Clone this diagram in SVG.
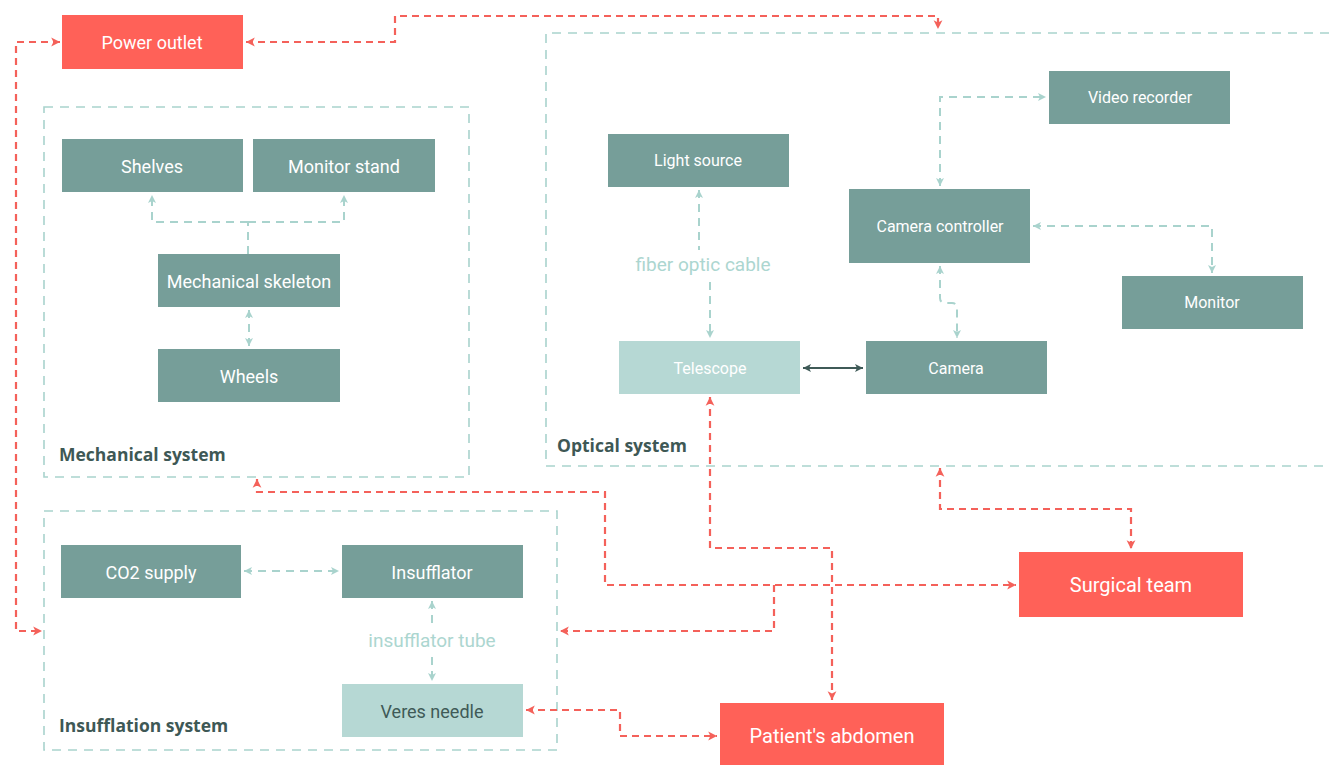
<svg xmlns="http://www.w3.org/2000/svg" width="1329" height="765" viewBox="0 0 1329 765">
  <style>
    .node { fill: #769e99; }
    .hot { fill: #ff6158; }
    .pale { fill: #b6d8d4; }
    .lbl { font-family: Roboto, "Liberation Sans", sans-serif; font-size: 18px; fill: #ffffff; text-anchor: middle; dominant-baseline: central; }
    .sm { font-size: 16px; }
    .big { font-size: 20px; }
    .dark { fill: #3f5a57; }
    .grp { fill: none; stroke: #a9d3cd; stroke-width: 1.6; stroke-dasharray: 9 7; }
    .gname { font-family: "Open Sans", "Liberation Sans", sans-serif; font-size: 17.5px; font-weight: bold; fill: #3e5855; }
    .cap { font-family: Roboto, "Liberation Sans", sans-serif; font-size: 19px; fill: #acd6d0; text-anchor: middle; }
    .r { fill: none; stroke: #f4615a; stroke-width: 2.2; stroke-dasharray: 7 5; }
    .t { fill: none; stroke: #a9d3cd; stroke-width: 2; stroke-dasharray: 8 6; }
    .s { fill: none; stroke: #3f5a57; stroke-width: 2; }
  </style>
  <defs>
    <marker id="ar" viewBox="0 0 10 10" refX="9" refY="5" markerWidth="11" markerHeight="11" markerUnits="userSpaceOnUse" orient="auto-start-reverse">
      <path d="M1,1 L9,5 L1,9 L3,5 z" fill="#f4615a"/>
    </marker>
    <marker id="at" viewBox="0 0 10 10" refX="9" refY="5" markerWidth="10" markerHeight="10" markerUnits="userSpaceOnUse" orient="auto-start-reverse">
      <path d="M1,1 L9,5 L1,9 L3,5 z" fill="#a9d3cd"/>
    </marker>
    <marker id="ad" viewBox="0 0 10 10" refX="9" refY="5" markerWidth="10" markerHeight="10" markerUnits="userSpaceOnUse" orient="auto-start-reverse">
      <path d="M1,1 L9,5 L1,9 L3,5 z" fill="#3f5a57"/>
    </marker>
  </defs>

  <!-- subsystem containers -->
  <g id="mechanical-system">
    <rect class="grp" x="44" y="107" width="425" height="370"/>
    <text class="gname" x="59" y="461">Mechanical system</text>
  </g>
  <g id="insufflation-system">
    <rect class="grp" x="44" y="511" width="513" height="239"/>
    <text class="gname" x="59" y="732">Insufflation system</text>
  </g>
  <g id="optical-system">
    <path class="grp" d="M1329,33 H546 V466 H1329"/>
    <text class="gname" x="557" y="452">Optical system</text>
  </g>

  <!-- connectors -->
  <g id="connectors">
    <!-- power and staff / patient links -->
    <path class="r" d="M246,42 H395 V16 H938 V29" marker-start="url(#ar)" marker-end="url(#ar)"/>
    <path class="r" d="M60,42 H16 V631 H42" marker-start="url(#ar)" marker-end="url(#ar)"/>
    <path class="r" d="M257,479 V492 H605 V585 H1016" marker-start="url(#ar)" marker-end="url(#ar)"/>
    <path class="r" d="M774,585 V631 H560" marker-end="url(#ar)"/>
    <path class="r" d="M710,397 V548 H832 V700" marker-start="url(#ar)" marker-end="url(#ar)"/>
    <path class="r" d="M940,468 V509 H1131 V549" marker-start="url(#ar)" marker-end="url(#ar)"/>
    <path class="r" d="M526,710 H620 V736 H717" marker-start="url(#ar)" marker-end="url(#ar)"/>

    <!-- mechanical -->
    <path class="t" d="M248,254 V222"/>
    <path class="t" d="M248,222 H152 V195" marker-end="url(#at)"/>
    <path class="t" d="M248,222 H344 V195" marker-end="url(#at)"/>
    <path class="t" d="M249,310 V346" marker-start="url(#at)" marker-end="url(#at)"/>

    <!-- insufflation -->
    <path class="t" d="M244,571 H339" marker-start="url(#at)" marker-end="url(#at)"/>
    <path class="t" d="M432,601 V624" marker-start="url(#at)"/>
    <path class="t" d="M432,657 V681" marker-end="url(#at)"/>
    <text class="cap" x="432" y="647">insufflator tube</text>

    <!-- optical -->
    <path class="t" d="M699,190 V250" marker-start="url(#at)"/>
    <path class="t" d="M710,282 V338" marker-end="url(#at)"/>
    <text class="cap" x="703" y="271">fiber optic cable</text>
    <path class="t" d="M940,186 V97 H1046" marker-start="url(#at)" marker-end="url(#at)"/>
    <path class="t" d="M1033,226 H1212 V273" marker-start="url(#at)" marker-end="url(#at)"/>
    <path class="t" d="M940,266 V298 Q940,303 946,303 H952 Q957,303 957,309 V338" marker-start="url(#at)" marker-end="url(#at)"/>
    <path class="s" d="M803,368 H863" marker-start="url(#ad)" marker-end="url(#ad)"/>
  </g>

  <!-- nodes -->
  <g id="power-outlet"><rect class="hot" x="62" y="15" width="181" height="54"/><text class="lbl" x="152" y="42">Power outlet</text></g>
  <g id="shelves"><rect class="node" x="62" y="139" width="181" height="53"/><text class="lbl" x="152" y="166">Shelves</text></g>
  <g id="monitor-stand"><rect class="node" x="253" y="139" width="182" height="53"/><text class="lbl" x="344" y="166">Monitor stand</text></g>
  <g id="mechanical-skeleton"><rect class="node" x="158" y="254" width="182" height="53"/><text class="lbl" x="249" y="281">Mechanical skeleton</text></g>
  <g id="wheels"><rect class="node" x="158" y="349" width="182" height="53"/><text class="lbl" x="249" y="376">Wheels</text></g>

  <g id="co2-supply"><rect class="node" x="61" y="545" width="180" height="53"/><text class="lbl" x="151" y="572">CO2 supply</text></g>
  <g id="insufflator"><rect class="node" x="342" y="545" width="181" height="53"/><text class="lbl" x="432" y="572">Insufflator</text></g>
  <g id="veres-needle"><rect class="pale" x="342" y="684" width="181" height="53"/><text class="lbl dark" x="432" y="711">Veres needle</text></g>

  <g id="light-source"><rect class="node" x="608" y="134" width="181" height="53"/><text class="lbl sm" x="698" y="160">Light source</text></g>
  <g id="video-recorder"><rect class="node" x="1049" y="71" width="181" height="53"/><text class="lbl sm" x="1140" y="97">Video recorder</text></g>
  <g id="camera-controller"><rect class="node" x="849" y="189" width="181" height="74"/><text class="lbl sm" x="940" y="226">Camera controller</text></g>
  <g id="monitor"><rect class="node" x="1122" y="276" width="181" height="53"/><text class="lbl sm" x="1212" y="302">Monitor</text></g>
  <g id="telescope"><rect class="pale" x="619" y="341" width="181" height="53"/><text class="lbl sm" x="710" y="368">Telescope</text></g>
  <g id="camera"><rect class="node" x="866" y="341" width="181" height="53"/><text class="lbl sm" x="956" y="368">Camera</text></g>

  <g id="surgical-team"><rect class="hot" x="1019" y="552" width="224" height="65"/><text class="lbl big" x="1131" y="585">Surgical team</text></g>
  <g id="patients-abdomen"><rect class="hot" x="720" y="703" width="224" height="65"/><text class="lbl big" x="832" y="736">Patient's abdomen</text></g>
</svg>
